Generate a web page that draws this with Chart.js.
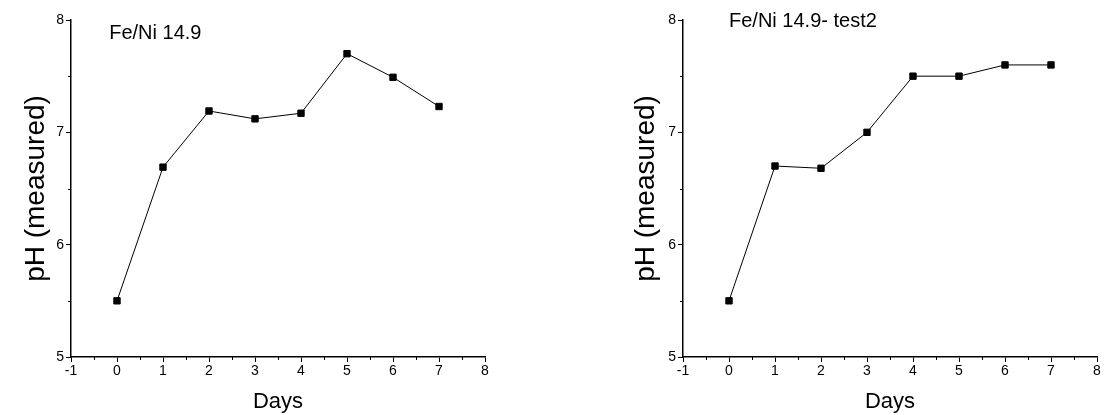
<!DOCTYPE html>
<html>
<head>
<meta charset="utf-8">
<script src="https://cdn.jsdelivr.net/npm/chart.js@4.4.1/dist/chart.umd.min.js"></script>
<style>
  html, body { margin: 0; padding: 0; background: #fff; }
  body { width: 1107px; height: 415px; position: relative; overflow: hidden; }
  .box { position: absolute; top: 0; height: 415px; }
  #b1 { left: 0; width: 553px; }
  #b2 { left: 612px; width: 495px; }
</style>
</head>
<body>
<div class="box" id="b1"><canvas id="c1"></canvas></div>
<div class="box" id="b2"><canvas id="c2"></canvas></div>
<script>
const days = [0, 1, 2, 3, 4, 5, 6, 7];
const phTest1 = [5.50, 6.69, 7.19, 7.12, 7.17, 7.70, 7.49, 7.23];
const phTest2 = [5.50, 6.70, 6.68, 7.00, 7.50, 7.50, 7.60, 7.60];
const titles = ['Fe/Ni 14.9', 'Fe/Ni 14.9- test2'];
const xTitle = 'Days';
const yTitle = 'pH (measured)';
const xRange = [-1, 8];
const yRange = [5, 8];

const FONT = "'Liberation Sans', Arial, sans-serif";

const extras = {
  id: 'extras',
  afterDraw(chart, args, opts) {
    const ctx = chart.ctx;
    const xs = chart.scales.x, ys = chart.scales.y;
    const ca = chart.chartArea;
    ctx.save();
    ctx.strokeStyle = '#000';
    ctx.lineWidth = 1;
    ctx.beginPath();
    for (let v = xRange[0] + 0.5; v < xRange[1]; v += 1) {
      const px = Math.round(xs.getPixelForValue(v)) + 0.5;
      ctx.moveTo(px, ca.bottom);
      ctx.lineTo(px, ca.bottom + 3);
    }
    for (let v = yRange[0] + 0.5; v < yRange[1]; v += 1) {
      const py = Math.round(ys.getPixelForValue(v)) + 0.5;
      ctx.moveTo(ca.left, py);
      ctx.lineTo(ca.left - 3, py);
    }
    ctx.stroke();
    ctx.fillStyle = '#000';
    ctx.font = '20px ' + FONT;
    ctx.textBaseline = 'middle';
    ctx.textAlign = 'left';
    ctx.fillText(opts.text, xs.getPixelForValue(opts.x), ys.getPixelForValue(opts.y));
    ctx.restore();
  }
};

function makeChart(id, values, title, pos, yTitlePad, rightPad) {
  return new Chart(document.getElementById(id), {
    type: 'line',
    data: {
      datasets: [{
        data: days.map((d, i) => ({ x: d, y: values[i] })),
        borderColor: '#000',
        borderWidth: 1,
        backgroundColor: '#000',
        pointStyle: 'rect',
        pointRadius: 4.5,
        pointBorderWidth: 1,
        pointBorderColor: '#000',
        pointBackgroundColor: '#000',
        tension: 0,
        fill: false
      }]
    },
    options: {
      responsive: true,
      maintainAspectRatio: false,
      animation: false,
      events: [],
      layout: { padding: { left: 0, right: rightPad, top: 20, bottom: 0 } },
      plugins: {
        legend: { display: false },
        tooltip: { enabled: false },
        extras: { text: title, x: pos[0], y: pos[1] }
      },
      scales: {
        x: {
          type: 'linear',
          min: xRange[0], max: xRange[1],
          afterFit(s) { s.height = 58; },
          ticks: { stepSize: 1, color: '#000', font: { family: FONT, size: 14 }, padding: 1, maxRotation: 0, autoSkip: false },
          grid: { display: true, drawOnChartArea: false, drawTicks: true, tickLength: 5, tickColor: '#000', tickWidth: 1 },
          border: { display: true, color: '#000', width: 1.5 },
          title: { display: true, text: xTitle, color: '#000', font: { family: FONT, size: 22 }, padding: { top: 0, bottom: 0 } }
        },
        y: {
          type: 'linear',
          min: yRange[0], max: yRange[1],
          afterFit(s) { s.width = 71; },
          ticks: { stepSize: 1, color: '#000', font: { family: FONT, size: 14 }, padding: 2 },
          grid: { display: true, drawOnChartArea: false, drawTicks: true, tickLength: 5, tickColor: '#000', tickWidth: 1 },
          border: { display: true, color: '#000', width: 1.5 },
          title: { display: true, text: yTitle, color: '#000', font: { family: FONT, size: 28 }, padding: { top: yTitlePad, bottom: 0 } }
        }
      }
    },
    plugins: [extras]
  });
}

makeChart('c1', phTest1, titles[0], [-0.17, 7.88], 19, 68);
makeChart('c2', phTest2, titles[1], [0.0, 7.99], 17, 10);
</script>
</body>
</html>
